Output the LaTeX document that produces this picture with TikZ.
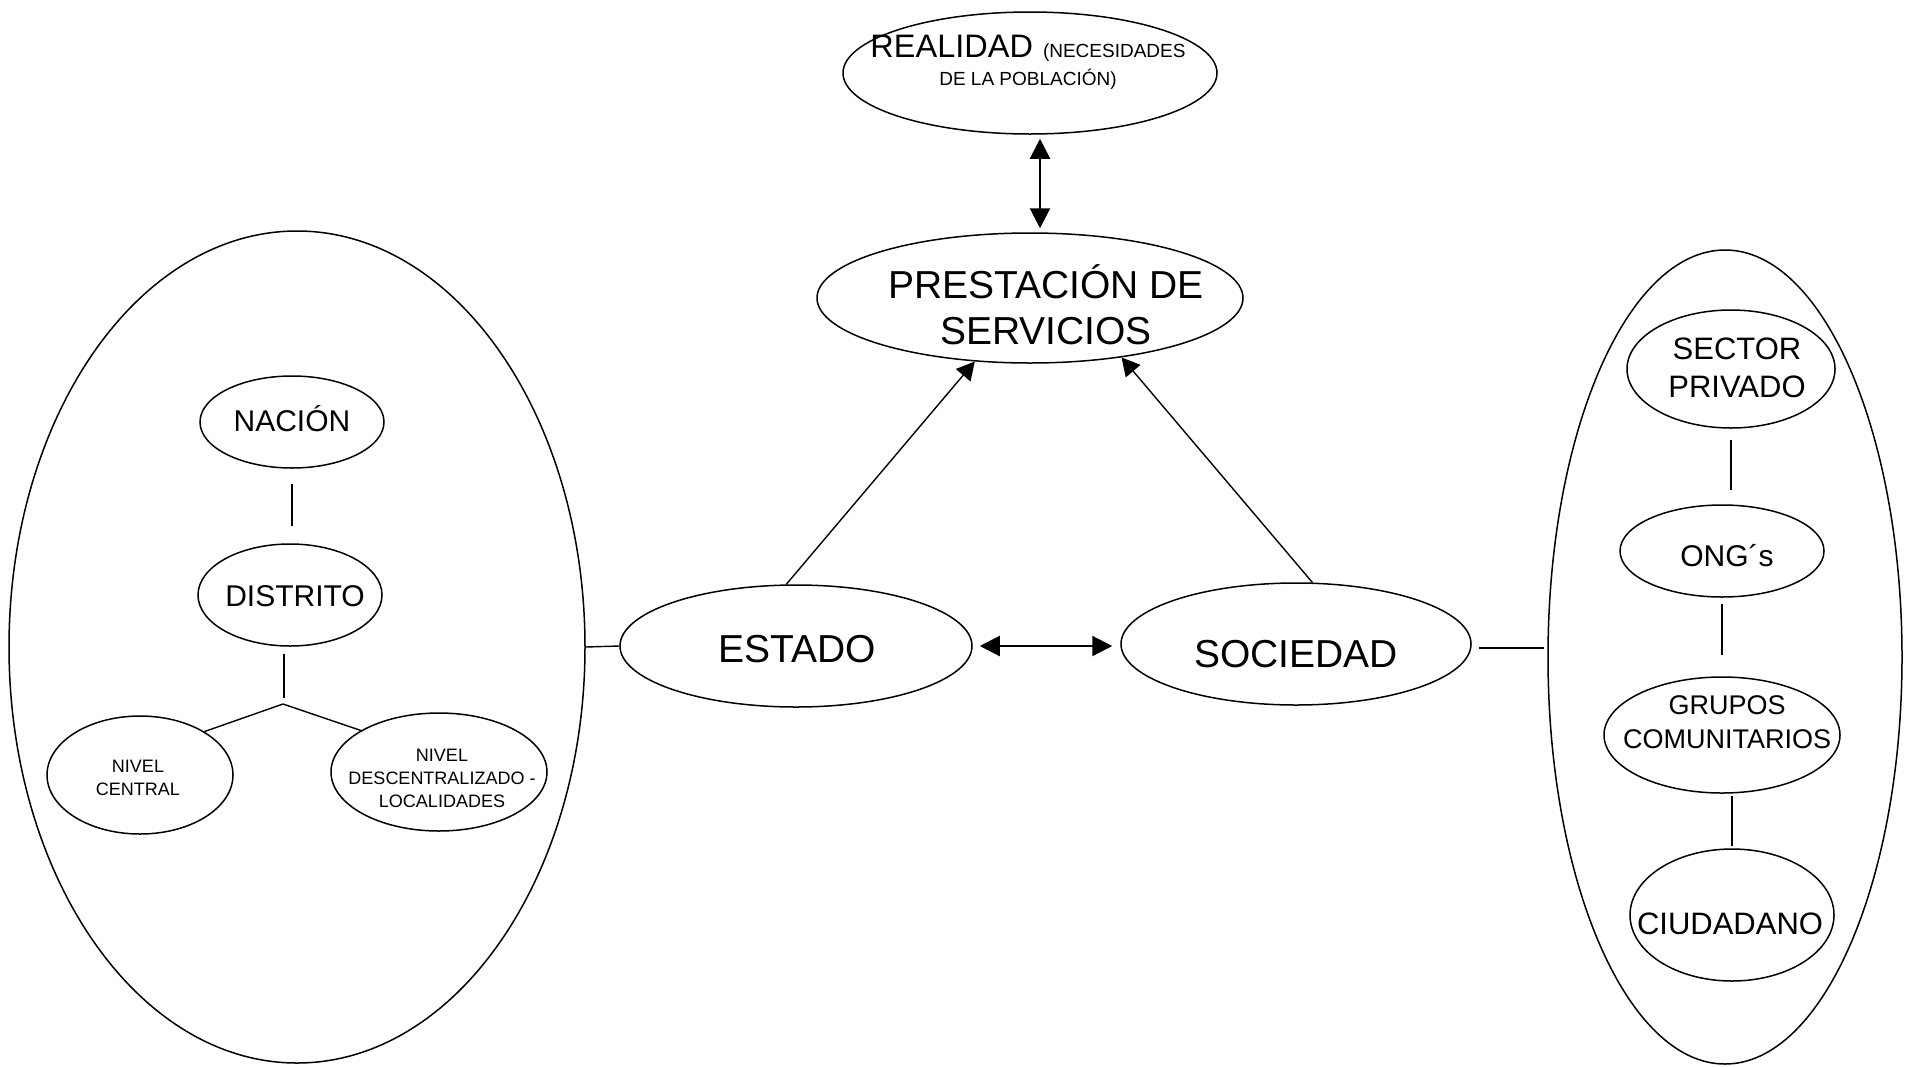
\documentclass[tikz,border=0pt]{standalone}
\usepackage{fontspec}
\setmainfont{Liberation Sans}
\usetikzlibrary{shapes.geometric,arrows.meta}
\begin{document}
\begin{tikzpicture}[x=1pt,y=-1pt,
  ell/.style={draw, ellipse, line width=1.5pt, inner sep=0pt},
  conn/.style={line width=1.4pt},
  arr/.style={line width=1.4pt, -{Triangle[length=18pt,width=19pt]}},
  dbl/.style={line width=2.2pt, {Triangle[length=20pt,width=20pt]}-{Triangle[length=20pt,width=20pt]}},
  big/.style={inner sep=0pt, align=center, font=\fontsize{39}{46}\selectfont},
  mid/.style={inner sep=0pt, align=center, font=\fontsize{30}{38}\selectfont},
  small/.style={inner sep=0pt, align=center, font=\fontsize{18}{22.5}\selectfont}]
\useasboundingbox (0,0) rectangle (1911,1066);
% central ellipses
\node[ell, minimum width=374pt, minimum height=122pt] (realidad) at (1030,73) {};
\node[ell, minimum width=426pt, minimum height=130pt] (prest) at (1030,298) {};
\node[ell, minimum width=352pt, minimum height=122pt] (estado) at (796,646) {};
\node[ell, minimum width=350pt, minimum height=122pt] (sociedad) at (1296,644) {};
% big ellipses
\node[ell, minimum width=576pt, minimum height=832pt] (bigleft) at (297,647) {};
\node[ell, minimum width=354pt, minimum height=814pt] (bigright) at (1725,657) {};
% left inner
\node[ell, minimum width=184pt, minimum height=92pt] (nacion) at (292,422) {};
\node[ell, minimum width=184pt, minimum height=102pt] (distrito) at (290,595) {};
\node[ell, minimum width=186pt, minimum height=118pt] (nivc) at (140,775) {};
\node[ell, minimum width=216pt, minimum height=118pt] (nivd) at (439,772) {};
% right inner
\node[ell, minimum width=208pt, minimum height=118pt] (sector) at (1731,369) {};
\node[ell, minimum width=204pt, minimum height=92pt] (ong) at (1722,551) {};
\node[ell, minimum width=236pt, minimum height=116pt] (grupos) at (1722,735) {};
\node[ell, minimum width=204pt, minimum height=132pt] (ciudadano) at (1732,915) {};
% texts
\node[inner sep=0pt, align=center, font=\fontsize{19}{28}\selectfont] (t-realidad) at (1028,62)
  {{\fontsize{32.5}{28}\selectfont REALIDAD}\hspace{10pt}(NECESIDADES\\DE LA POBLACIÓN)};
\node[big] (t-prest) at (1046,305) {PRESTACIÓN DE\\SERVICIOS};
\node[big, anchor=base] (t-estado) at (797,662) {ESTADO};
\node[big, anchor=base] (t-sociedad) at (1296,667) {SOCIEDAD};
\node[mid, anchor=base] (t-nacion) at (292,431) {NACIÓN};
\node[mid, anchor=base] (t-distrito) at (295,606) {DISTRITO};
\node[small] (t-nivc) at (138,778) {NIVEL\\CENTRAL};
\node[small, font=\fontsize{18}{23}\selectfont] (t-nivd) at (442,778) {NIVEL\\DESCENTRALIZADO -\\LOCALIDADES};
\node[inner sep=0pt, align=center, font=\fontsize{31}{38}\selectfont] (t-sector) at (1737,368) {SECTOR\\PRIVADO};
\node[mid, anchor=base] (t-ong) at (1727,566) {ONG´s};
\node[inner sep=0pt, align=center, font=\fontsize{27}{34}\selectfont] (t-grupos) at (1727,722) {GRUPOS\\COMUNITARIOS};
\node[mid, anchor=base, font=\fontsize{31}{38}\selectfont] (t-ciudadano) at (1730,934) {CIUDADANO};
% connectors
\draw[dbl, shorten <=4pt, shorten >=4pt] ([xshift=10pt]realidad.south) -- ([xshift=10pt]prest.north);
\draw[dbl, shorten <=7pt, shorten >=8pt] (estado.east) -- (estado.east -| sociedad.west);
\draw[arr] (estado.99) -- (prest.229);
\draw[arr] (sociedad.75) -- (prest.-33.4);
\draw[conn] (bigleft.east) -- (estado.west);
\draw[conn, shorten <=7pt, shorten >=3pt] ([yshift=-4pt]sociedad.east) -- ([yshift=-4pt]sociedad.east -| bigright.west);
% left tree
\coordinate (junc) at (283,704);
\draw[conn, shorten <=15pt, shorten >=17pt] (nacion.south) -- (nacion.south |- distrito.north);
\draw[conn, shorten <=7pt] ([xshift=-6pt]distrito.south) -- ([xshift=-6pt]distrito.south |- 0,698);
\draw[conn] (nivc.34) -- (junc) -- (nivd.152);
% right chain
\draw[conn, shorten <=11pt, shorten >=14pt] (sector.south) -- (sector.south |- ong.north);
\draw[conn, shorten <=6pt, shorten >=21pt] (ong.south) -- (ong.south |- grupos.north);
\draw[conn, shorten <=2pt, shorten >=2pt] ([xshift=10pt]grupos.south) -- ([xshift=10pt]grupos.south |- ciudadano.north);
\end{tikzpicture}
\end{document}
